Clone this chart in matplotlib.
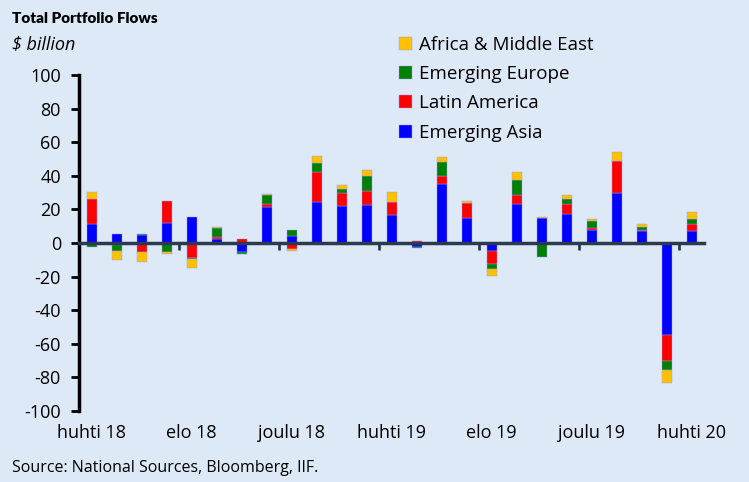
import matplotlib.pyplot as plt
import numpy as np

plt.rcParams['font.family'] = ['Open Sans', 'DejaVu Sans']
plt.rcParams['axes.unicode_minus'] = False

months = ['huhti 18', 'touko 18', 'kesä 18', 'heinä 18', 'elo 18', 'syys 18',
          'loka 18', 'marras 18', 'joulu 18', 'tammi 19', 'helmi 19', 'maalis 19',
          'huhti 19', 'touko 19', 'kesä 19', 'heinä 19', 'elo 19', 'syys 19',
          'loka 19', 'marras 19', 'joulu 19', 'tammi 20', 'helmi 20', 'maalis 20',
          'huhti 20']

asia = [11.5, 5.3, 4.8, 12.0, 15.4, 2.4, -5.3, 21.6, 4.4, 24.6, 22.0, 22.8,
        16.6, -2.5, 35.4, 14.7, -4.8, 23.4, 15.0, 17.2, 7.6, 29.9, 6.9, -54.7, 7.1]
latam = [14.6, -1.4, -5.5, 12.9, -8.9, 1.0, 2.4, 1.4, -3.6, 17.8, 7.5, 7.9,
         7.9, 1.0, 4.6, 8.9, -7.7, 5.1, 0.0, 5.9, 1.5, 18.8, 0.8, -15.6, 4.4]
europe = [-2.5, -3.2, 0.6, -5.5, -0.8, 5.5, -1.2, 5.7, 3.2, 5.0, 2.6, 9.3,
          0.0, -0.3, 8.3, 0.0, -3.0, 8.9, -8.1, 3.2, 4.1, 0.0, 2.0, -5.1, 3.0]
africa_me = [4.2, -5.5, -5.7, -0.8, -5.0, 0.4, -0.3, 0.4, -1.4, 4.4, 2.4, 3.4,
             6.1, 0.5, 3.2, 1.2, -4.2, 4.6, 0.4, 2.0, 1.1, 5.3, 1.6, -8.1, 4.0]

series = [('Emerging Asia', asia, '#0000FF'),
          ('Latin America', latam, '#FF0000'),
          ('Emerging Europe', europe, '#008000'),
          ('Africa & Middle East', africa_me, '#FFC000')]

bg = '#DDE9F6'
fig = plt.figure(figsize=(7.49, 4.82), dpi=100, facecolor=bg)
ax = fig.add_axes([0.1055, 0.1473, 0.8345, 0.697])
ax.set_facecolor(bg)

x = np.arange(len(months))
pos_base = np.zeros(len(x))
neg_base = np.zeros(len(x))
handles = []
for name, vals, col in series:
    v = np.array(vals)
    base = np.where(v >= 0, pos_base, neg_base)
    b = ax.bar(x, v, 0.4, bottom=base, color=col, label=name,
               edgecolor='#9999ff', linewidth=0.3)
    handles.append(b)
    pos_base += np.where(v > 0, v, 0)
    neg_base += np.where(v < 0, v, 0)

ax.set_xlim(-0.5, len(x) - 0.5)
ax.set_ylim(-100, 100)
ax.set_yticks(np.arange(-100, 101, 20))
ax.tick_params(axis='y', direction='out', length=6, width=2, labelsize=13, pad=7)

for s in ['top', 'right']:
    ax.spines[s].set_visible(False)
ax.spines['left'].set_linewidth(2.5)
ax.spines['bottom'].set_position(('data', 0))
ax.spines['bottom'].set_color('#2B3A4E')
ax.spines['bottom'].set_linewidth(2.5)

ax.set_xticks(x[::4])
ax.set_xticklabels(months[::4])
ax.set_xticks(np.arange(-0.5, len(x), 4), minor=True)
ax.tick_params(axis='x', which='major', length=0, labelsize=13, pad=130)
ax.tick_params(axis='x', which='minor', length=5, width=2, color='#2B3A4E')

fig.text(0.016, 0.962, 'Total Portfolio Flows', fontsize=11, fontweight='heavy',
         va='center', family=['Lato', 'DejaVu Sans'])
fig.text(0.016, 0.908, '$ billion', fontsize=13, style='italic', va='center')
fig.text(0.016, 0.03, 'Source: National Sources, Bloomberg, IIF.', fontsize=11.5, va='center')

fig.legend(handles[::-1], [h.get_label() for h in handles[::-1]],
           loc='upper left', bbox_to_anchor=(0.52, 0.945), frameon=False,
           fontsize=13.5, handlelength=0.7, handleheight=0.7, handletextpad=0.35,
           labelspacing=0.6, borderpad=0)

fig.savefig('out.png', dpi=100, facecolor=bg)
